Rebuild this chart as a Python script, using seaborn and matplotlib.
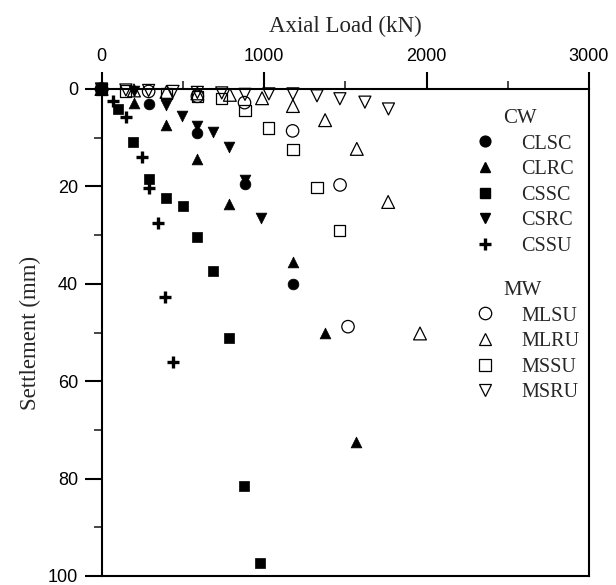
import matplotlib
matplotlib.use("Agg")
import matplotlib.pyplot as plt
from matplotlib.lines import Line2D
from matplotlib.ticker import MultipleLocator
import seaborn as sns
import pandas as pd

# Load-settlement records, axial load in kN and settlement in mm
clsc_load = [0, 290, 586, 883, 1178]
clsc_settle = [0, 3.1, 9.1, 19.5, 40.0]

clrc_load = [0, 200, 397, 588, 785, 1178, 1377, 1566]
clrc_settle = [0, 2.9, 7.4, 14.3, 23.6, 35.6, 50.2, 72.4]

cssc_load = [0, 100, 194, 293, 397, 500, 589, 686, 785, 877, 976]
cssc_settle = [0, 4.1, 10.9, 18.4, 22.3, 24.1, 30.3, 37.3, 51.2, 81.6, 97.4]

csrc_load = [0, 200, 397, 495, 590, 687, 785, 883, 980]
csrc_settle = [0, 0.5, 3.2, 5.5, 7.6, 8.8, 11.9, 18.6, 26.5]

cssu_load = [0, 71, 150, 249, 293, 347, 391, 440]
cssu_settle = [0, 2.5, 5.7, 13.9, 20.3, 27.6, 42.8, 56.1]

mlsu_load = [0, 290, 590, 880, 1176, 1468, 1517]
mlsu_settle = [0, 0.5, 1.5, 2.8, 8.6, 19.7, 48.8]

mlru_load = [0, 200, 400, 590, 790, 988, 1178, 1376, 1571, 1764, 1960]
mlru_settle = [0, 0.3, 0.6, 0.9, 1.2, 1.9, 3.5, 6.4, 12.3, 23.2, 50.2]

mssu_load = [0, 150, 400, 590, 740, 883, 1030, 1178, 1326, 1467]
mssu_settle = [0, 0.4, 1.0, 1.5, 2.0, 4.4, 8.0, 12.4, 20.3, 29.1]

msru_load = [0, 150, 290, 440, 590, 740, 883, 1030, 1178, 1326, 1467, 1621, 1766]
msru_settle = [0, 0.2, 0.3, 0.5, 0.7, 0.8, 1.1, 1.0, 1.0, 1.4, 2.0, 2.7, 4.1]

x_ticks = [0, 1000, 2000, 3000]
y_ticks = [0, 20, 40, 60, 80, 100]

sns.set_style("ticks")
SERIF = ["Liberation Serif", "DejaVu Serif"]
SANS = ["Liberation Sans", "DejaVu Sans"]
plt.rcParams["font.family"] = SANS

fig = plt.figure(figsize=(6.16, 5.85), dpi=100)
ax = fig.add_axes([101.5 / 616, 9 / 585, 487.5 / 616, 487 / 585])

# marker, filled?, size
styles = {
    "CLSC": ("o", True, 60),
    "CLRC": ("^", True, 60),
    "CSSC": ("s", True, 55),
    "CSRC": ("v", True, 60),
    "CSSU": ("+", True, 80),
    "MLSU": ("o", False, 80),
    "MLRU": ("^", False, 85),
    "MSSU": ("s", False, 65),
    "MSRU": ("v", False, 75),
}
series = {
    "CLSC": (clsc_load, clsc_settle),
    "CLRC": (clrc_load, clrc_settle),
    "CSSC": (cssc_load, cssc_settle),
    "CSRC": (csrc_load, csrc_settle),
    "CSSU": (cssu_load, cssu_settle),
    "MLSU": (mlsu_load, mlsu_settle),
    "MLRU": (mlru_load, mlru_settle),
    "MSSU": (mssu_load, mssu_settle),
    "MSRU": (msru_load, msru_settle),
}

for name, (xs, ys) in series.items():
    m, filled, s = styles[name]
    df = pd.DataFrame({"load": xs, "settle": ys})
    if m == "+":
        sns.scatterplot(data=df, x="load", y="settle", ax=ax, marker="+", s=s,
                        color="black", linewidth=2.4, clip_on=False, zorder=3)
    elif filled:
        sns.scatterplot(data=df, x="load", y="settle", ax=ax, marker=m, s=s,
                        color="black", edgecolor="black", linewidth=0.5,
                        clip_on=False, zorder=3)
    else:
        sns.scatterplot(data=df, x="load", y="settle", ax=ax, marker=m, s=s,
                        facecolor="none", edgecolor="black", linewidth=0.9,
                        clip_on=False, zorder=3)

ax.set_xlim(0, 3000)
ax.set_ylim(100, 0)
ax.xaxis.tick_top()
ax.xaxis.set_label_position("top")
ax.set_xticks(x_ticks)
ax.set_yticks(y_ticks)
ax.xaxis.set_minor_locator(MultipleLocator(500))
ax.yaxis.set_minor_locator(MultipleLocator(10))
ax.tick_params(axis="both", which="major", direction="out", length=12, width=1.5,
               labelsize=13, pad=5, colors="black")
ax.tick_params(axis="both", which="minor", direction="out", length=6, width=1.2)
ax.tick_params(axis="x", which="both", top=True, bottom=False)
ax.tick_params(axis="y", which="both", left=True, right=False)
for sp in ax.spines.values():
    sp.set_visible(True)
    sp.set_linewidth(1.5)
    sp.set_color("black")

ax.set_xlabel("Axial Load (kN)", fontsize=16.5, family=SERIF, labelpad=12)
ax.set_ylabel("Settlement (mm)", fontsize=16.5, family=SERIF, labelpad=5)


def make_handles(names):
    hs = []
    for n in names:
        m, filled, s = styles[n]
        ms = s ** 0.5
        if m == "+":
            hs.append(Line2D([], [], ls="none", marker="+", ms=ms, mew=2.4, color="black"))
        elif filled:
            hs.append(Line2D([], [], ls="none", marker=m, ms=ms, color="black"))
        else:
            hs.append(Line2D([], [], ls="none", marker=m, ms=ms, mfc="none",
                             mec="black", mew=0.9))
    return hs


cw = ["CLSC", "CLRC", "CSSC", "CSRC", "CSSU"]
mw = ["MLSU", "MLRU", "MSSU", "MSRU"]
leg_kw = dict(frameon=False, loc="upper left", borderaxespad=0, borderpad=0,
              handlelength=2.0, handletextpad=0.8, labelspacing=0.32,
              prop={"family": SERIF, "size": 14.5},
              title_fontproperties={"family": SERIF, "size": 15},
              bbox_transform=fig.transFigure)
leg1 = ax.legend(make_handles(cw), cw, title="CW",
                 bbox_to_anchor=(465 / 616, 1 - 109 / 585), **leg_kw)
ax.add_artist(leg1)
ax.legend(make_handles(mw), mw, title="MW",
          bbox_to_anchor=(465 / 616, 1 - 281 / 585), **leg_kw)

fig.savefig("out.png", dpi=100)
